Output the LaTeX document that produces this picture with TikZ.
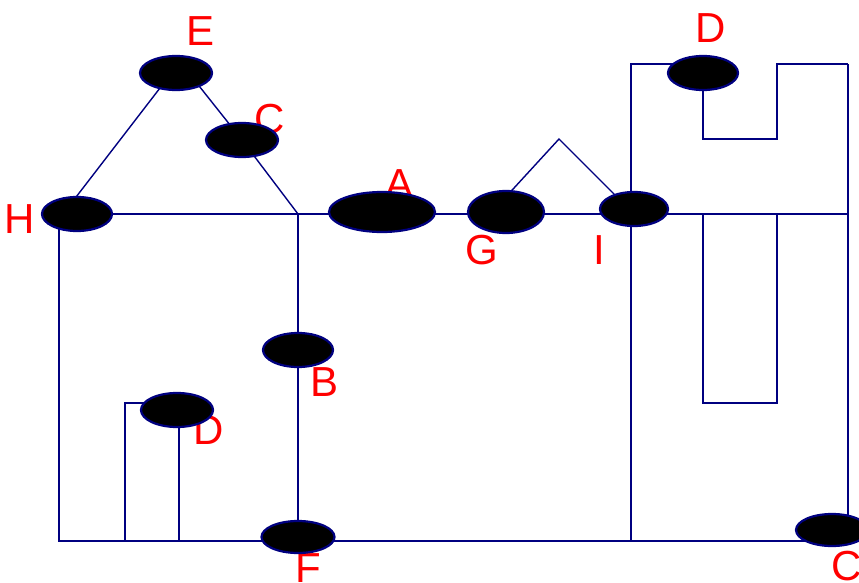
\documentclass[tikz,border=0pt]{standalone}
\usepackage{fontspec}
\setmainfont{Liberation Sans}
\usetikzlibrary{shapes.geometric}
\definecolor{wire}{HTML}{000080}
\definecolor{lab}{HTML}{FF0000}
\pgfdeclarelayer{bg}
\pgfdeclarelayer{lbl}
\pgfsetlayers{bg,lbl,main}
\begin{document}
\begin{tikzpicture}[x=1pt,y=-1pt,
  blob/.style={ellipse,fill=black,draw=wire,line width=2.2pt,minimum width=70pt,minimum height=34pt,inner sep=0pt},
  wireline/.style={draw=wire,line width=2.8pt},
  thinline/.style={draw=wire,line width=1.4pt},
  lbltext/.style={text=lab,font=\fontsize{42}{42}\selectfont,inner sep=0pt}]
\useasboundingbox (0,0) rectangle (859,583);
\begin{pgfonlayer}{bg}
  \fill[white] (0,0) rectangle (859,583);
\end{pgfonlayer}
% blobs
\node[blob,minimum width=72pt] (E) at (176,73) {};
\node[blob,minimum width=72pt] (C) at (242,140) {};
\node[blob] (H) at (77,214) {};
\node[blob,minimum width=106pt,minimum height=40pt] (A) at (382,212) {};
\node[blob,minimum width=76pt,minimum height=42pt] (G) at (506,212) {};
\node[blob,minimum width=68pt] (I) at (634,209) {};
\node[blob] (Dt) at (703,73) {};
\node[blob] (B) at (298,350) {};
\node[blob,minimum width=72pt] (Ds) at (177,410) {};
\node[blob,minimum width=73pt,minimum height=32pt] (F) at (298,537) {};
\node[blob,minimum width=72pt,minimum height=32pt] (Cb) at (832,530) {};
% labels
\begin{pgfonlayer}{lbl}
  \node[lbltext] (lE) at (201,31) {E};
  \node[lbltext] (lC) at (270,119) {C};
  \node[lbltext] (lH) at (20,219) {H};
  \node[lbltext] (lA) at (400,184) {A};
  \node[lbltext] (lG) at (482,250) {G};
  \node[lbltext] (lI) at (599,250) {I};
  \node[lbltext] (lDt) at (711,28) {D};
  \node[lbltext] (lB) at (325,382) {B};
  \node[lbltext] (lDs) at (209,430) {D};
  \node[lbltext] (lF) at (308,568) {F};
  \node[lbltext] (lCb) at (847,566) {C};
\end{pgfonlayer}
% coordinates
\coordinate (hl) at (59,214);
\coordinate (mr) at (848,214);
\coordinate (bl) at (59,541);
\coordinate (br) at (848,541);
\coordinate (tl) at (631,64);
\coordinate (tr) at (848,64);
\coordinate (ib) at (631,541);
\coordinate (jt) at (298,214);
\coordinate (et) at (180,62);
\coordinate (hb) at (63,214);
\coordinate (pk) at (559,139);
\coordinate (gp) at (492,212);
\coordinate (ip) at (634,214);
\coordinate (dq) at (703,139);
\coordinate (dr) at (777,139);
\coordinate (ds) at (777,64);
\coordinate (ua) at (703,214);
\coordinate (ub) at (703,403);
\coordinate (uc) at (777,403);
\coordinate (ud) at (777,214);
\coordinate (sa) at (125,541);
\coordinate (sb) at (125,403);
\coordinate (sd) at (179,410);
\coordinate (sc) at (179,541);
\begin{pgfonlayer}{bg}
  \draw[wireline] (hl) -- (mr);
  \draw[wireline] (hl) -- (bl) -- (br) -- (tr);
  \draw[wireline] (ib) -- (tl) -- (Dt.center |- tl);
  \draw[wireline] (Dt.center) -- (dq) -- (dr) -- (ds) -- (tr);
  \draw[wireline] (ua) -- (ub) -- (uc) -- (ud);
  \draw[wireline] (jt) -- (B.center) -- (F.center) -- (jt |- bl);
  \draw[wireline] (sa) -- (sb) -- (sb -| Ds.center);
  \draw[wireline] (sd) -- (sc);
  \draw[thinline] (et) -- (hb);
  \draw[thinline] (et) -- (C.center) -- (jt);
  \draw[thinline] (gp) -- (pk) -- (ip);
\end{pgfonlayer}
\end{tikzpicture}
\end{document}
